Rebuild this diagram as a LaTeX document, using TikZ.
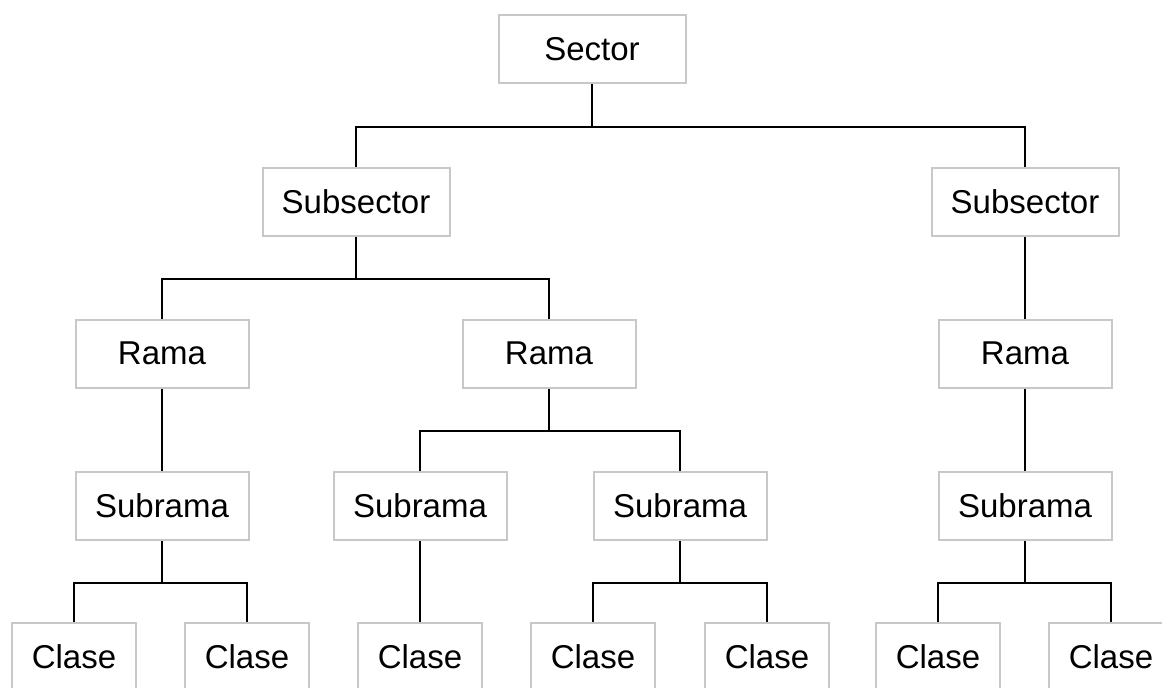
\documentclass[tikz,border=0pt]{standalone}
\usepackage{fontspec}
\setmainfont{Liberation Sans}
\definecolor{boxgray}{RGB}{200,200,200}
\begin{document}
\begin{tikzpicture}[x=1pt,y=-1pt,
  box/.style={draw=boxgray, line width=2pt, fill=white, inner sep=0pt,
    minimum height=68pt, font=\fontsize{33}{40}\selectfont},
  wsub/.style={box, minimum width=187pt},
  wmid/.style={box, minimum width=173pt},
  wcl/.style={box, minimum width=124pt},
  conn/.style={draw=black, line width=2pt}]
\clip (0,0) rectangle (1162,688);
\fill[white] (0,0) rectangle (1162,688);
% nodes
\node[wsub] (sector) at (592,49) {Sector};
\node[wsub] (subL) at (356,201.5) {Subsector};
\node[wsub] (subR) at (1025,201.5) {Subsector};
\node[wmid] (ramaL) at (162,353.5) {Rama};
\node[wmid] (ramaM) at (549,353.5) {Rama};
\node[wmid] (ramaR) at (1025,353.5) {Rama};
\node[wmid] (sraL) at (162,506) {Subrama};
\node[wmid] (sraM1) at (420,506) {Subrama};
\node[wmid] (sraM2) at (680,506) {Subrama};
\node[wmid] (sraR) at (1025,506) {Subrama};
\node[wcl] (c1) at (74,657) {Clase};
\node[wcl] (c2) at (247,657) {Clase};
\node[wcl] (c3) at (420,657) {Clase};
\node[wcl] (c4) at (593,657) {Clase};
\node[wcl] (c5) at (767,657) {Clase};
\node[wcl] (c6) at (938,657) {Clase};
\node[wcl] (c7) at (1111,657) {Clase};
% bus points
\coordinate (b1) at (592,127);
\coordinate (b2) at (356,279);
\coordinate (b3) at (549,431);
\coordinate (b4) at (162,583);
\coordinate (b5) at (680,583);
\coordinate (b6) at (1025,583);
% connectors
\draw[conn] (sector.south) -- (b1);
\draw[conn] (subL.north) |- (b1) -| (subR.north);
\draw[conn] (subL.south) -- (b2);
\draw[conn] (ramaL.north) |- (b2) -| (ramaM.north);
\draw[conn] (subR.south) -- (ramaR.north);
\draw[conn] (ramaL.south) -- (sraL.north);
\draw[conn] (ramaM.south) -- (b3);
\draw[conn] (sraM1.north) |- (b3) -| (sraM2.north);
\draw[conn] (ramaR.south) -- (sraR.north);
\draw[conn] (sraL.south) -- (b4);
\draw[conn] (c1.north) |- (b4) -| (c2.north);
\draw[conn] (sraM1.south) -- (c3.north);
\draw[conn] (sraM2.south) -- (b5);
\draw[conn] (c4.north) |- (b5) -| (c5.north);
\draw[conn] (sraR.south) -- (b6);
\draw[conn] (c6.north) |- (b6) -| (c7.north);
\end{tikzpicture}
\end{document}
